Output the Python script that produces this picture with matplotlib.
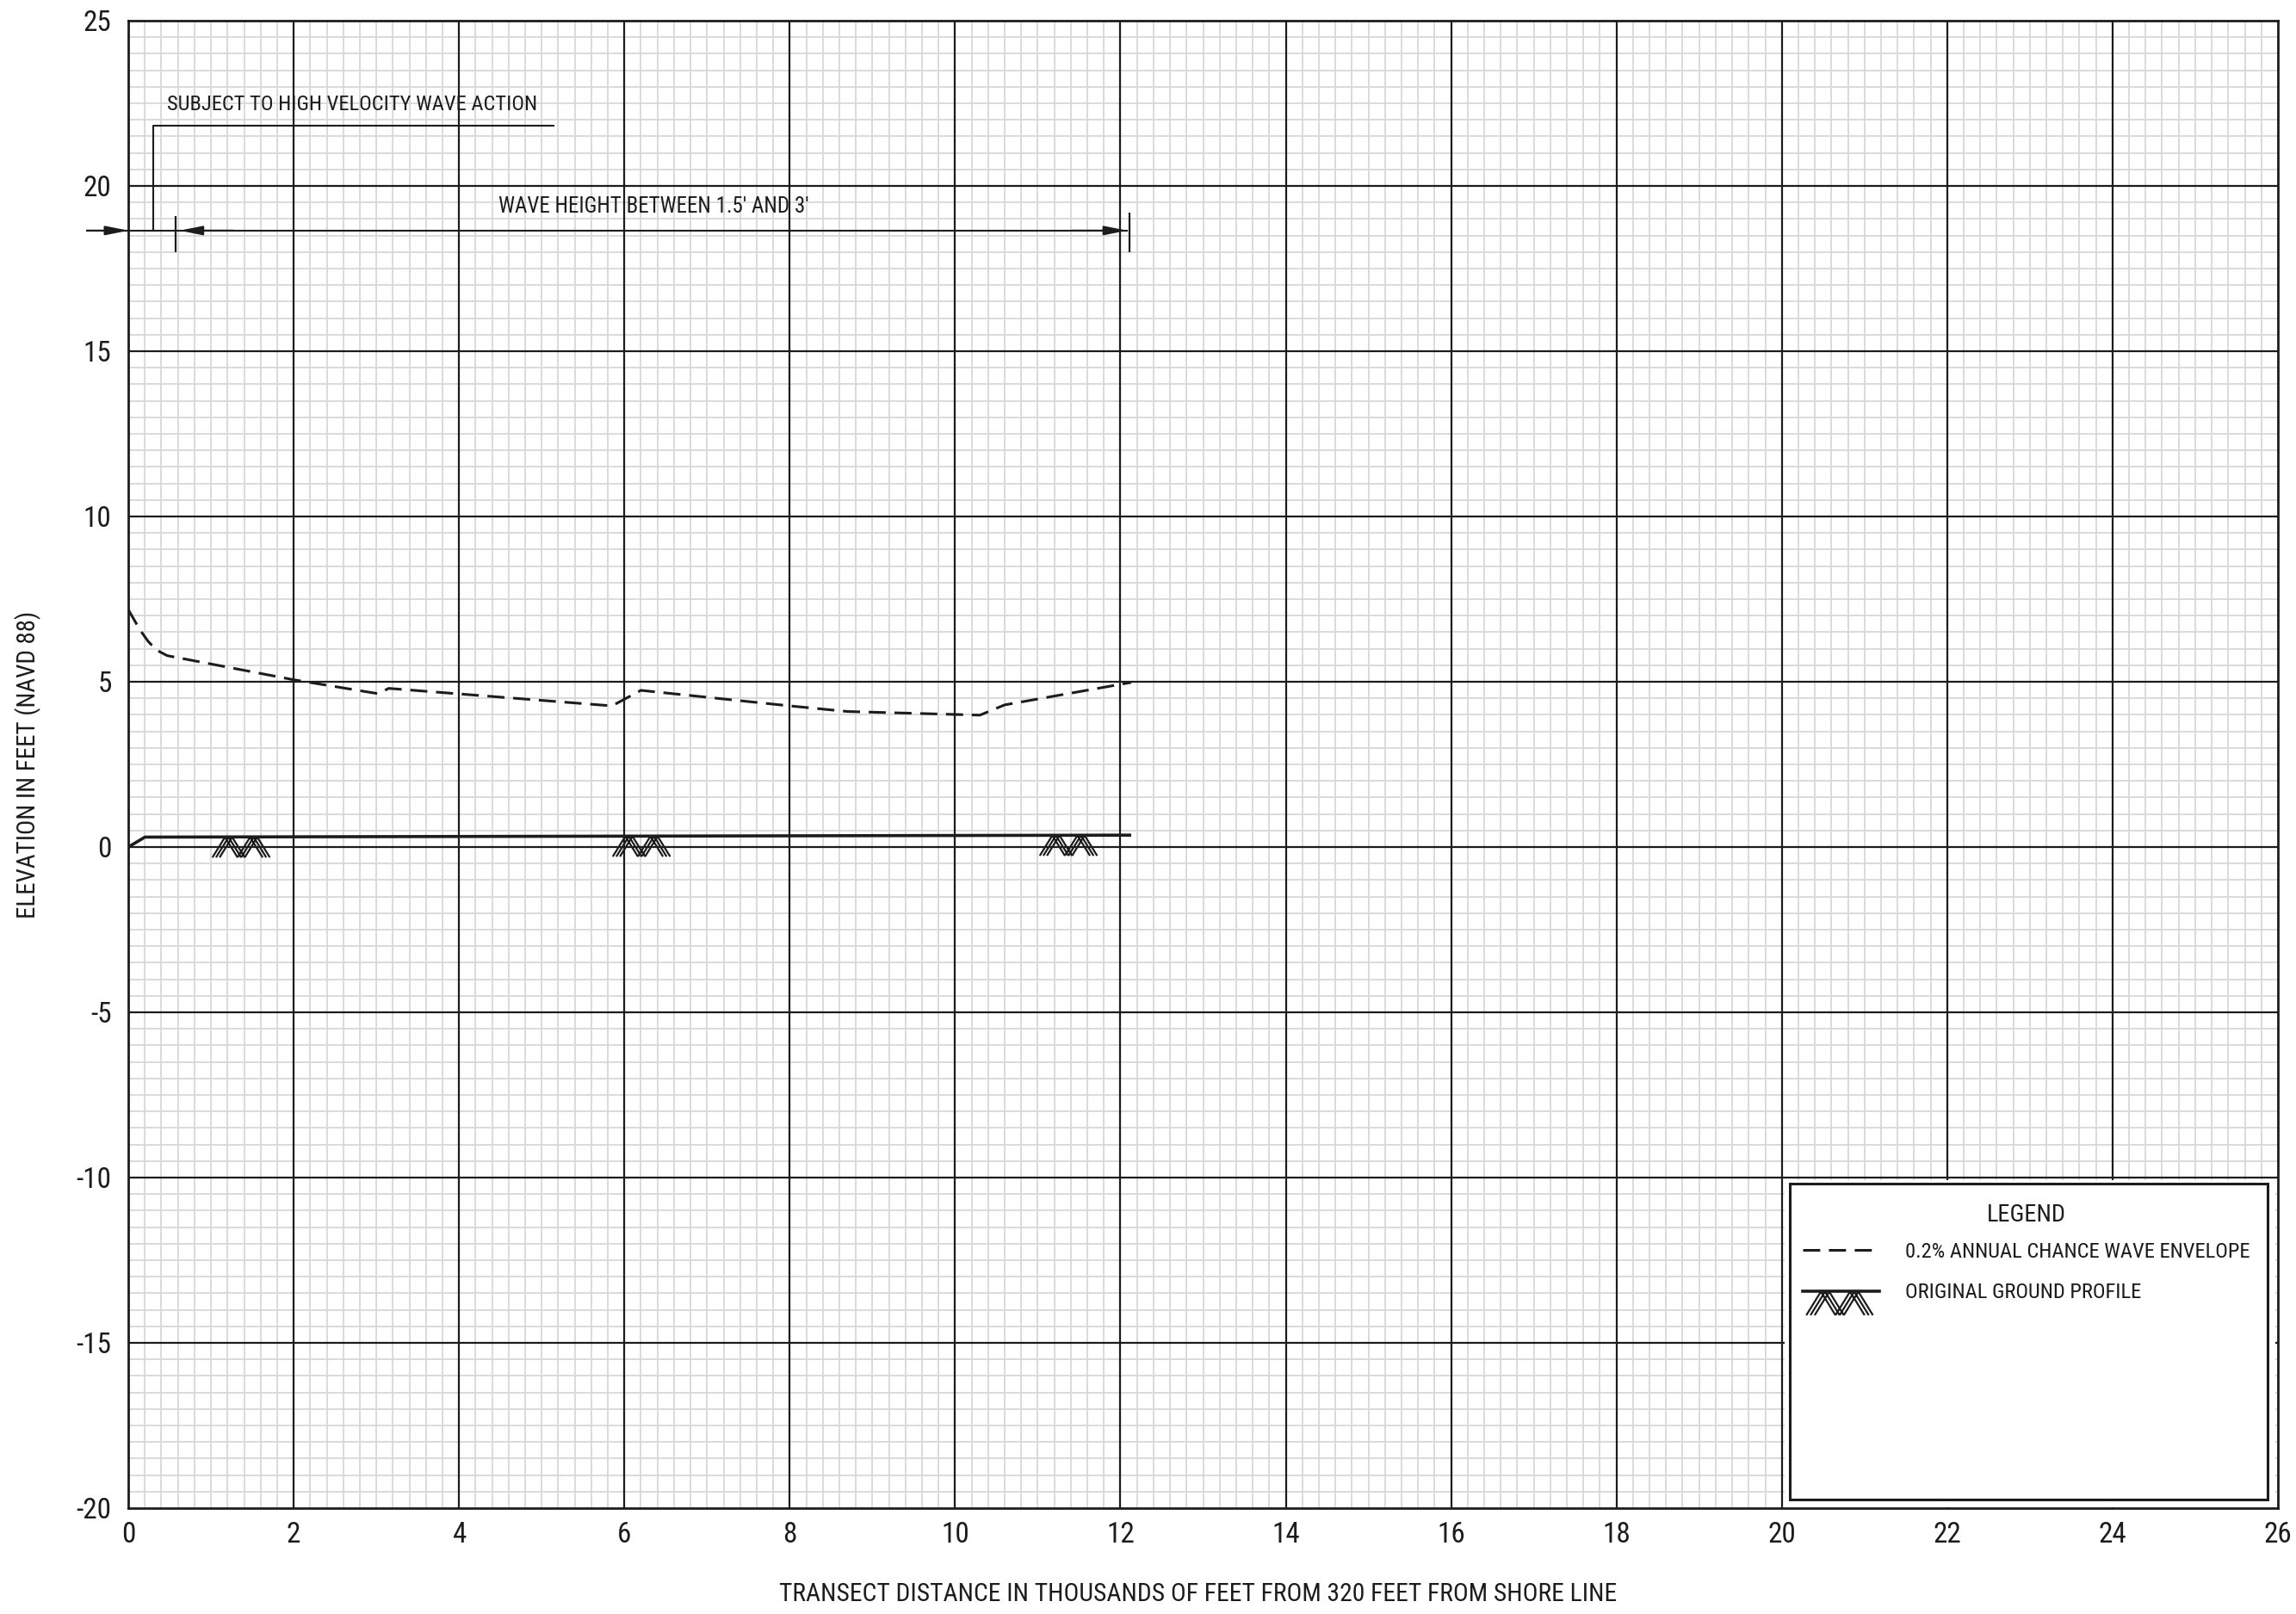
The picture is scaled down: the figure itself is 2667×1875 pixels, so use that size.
import numpy as np
import matplotlib
matplotlib.use('Agg')
import matplotlib.pyplot as plt
from matplotlib import font_manager as fm
from matplotlib.font_manager import FontProperties
from matplotlib.path import Path
from matplotlib.lines import Line2D
from matplotlib.patches import Rectangle
from matplotlib.ticker import MultipleLocator

# ---------------- data ----------------
envelope_x = [0.0, 0.14, 0.24, 0.34, 0.47, 2.0, 3.02, 3.15, 5.85, 6.2, 8.0, 8.7, 10.3, 10.6, 12.13]
envelope_y = [7.18, 6.57, 6.22, 5.96, 5.79, 5.06, 4.64, 4.80, 4.27, 4.74, 4.27, 4.10, 3.99, 4.30, 4.98]

ground_x = [0.0, 0.2, 12.13]
ground_y = [0.0, 0.30, 0.36]
hatch_x = [1.37, 6.22, 11.38]

x_ticks = list(range(0, 27, 2))
y_ticks = list(range(-20, 26, 5))

x_label = 'TRANSECT DISTANCE IN THOUSANDS OF FEET FROM 320 FEET FROM SHORE LINE'
y_label = 'ELEVATION IN FEET (NAVD 88)'
vzone_label = 'SUBJECT TO HIGH VELOCITY WAVE ACTION'
wave_label = "WAVE HEIGHT BETWEEN 1.5' AND 3'"
legend_title = 'LEGEND'
legend_labels = ['0.2% ANNUAL CHANCE WAVE ENVELOPE', 'ORIGINAL GROUND PROFILE']

# annotation geometry (data units)
zone_y = 18.65
bracket_x = 0.30
bracket_top = 21.82
bracket_right = 5.14
zone_start = 0.57
zone_end = 12.11

INK = '#1c1c1c'

# ------------- pick a condensed font if one is installed -------------
def pick_font():
    entries = fm.fontManager.ttflist
    names = {e.name for e in entries}
    for cand in ['Roboto Condensed', 'Liberation Sans Narrow', 'Open Sans Condensed',
                 'Noto Sans Condensed', 'DejaVu Sans Condensed', 'Noto Sans SemiCondensed',
                 'Open Sans SemiCondensed']:
        if cand in names:
            return cand, 'normal'
    for e in entries:
        if ('Condensed' in e.name or 'Narrow' in e.name) and e.style == 'normal':
            return e.name, 'normal'
    for e in entries:
        if str(e.stretch) in ('condensed', 'semi-condensed', 'extra-condensed'):
            return e.name, str(e.stretch)
    for cand in ['Roboto', 'Liberation Sans', 'DejaVu Sans']:
        if cand in names:
            return cand, 'normal'
    return 'DejaVu Sans', 'normal'

FONT, STRETCH = pick_font()
WEIGHT = 'normal'
plt.rcParams['font.family'] = [FONT, 'DejaVu Sans']
plt.rcParams['font.stretch'] = STRETCH
plt.rcParams['font.weight'] = WEIGHT
plt.rcParams['axes.unicode_minus'] = False

# ---------------- figure ----------------
fig = plt.figure(figsize=(26.67, 18.75), dpi=100)
renderer = fig.canvas.get_renderer()

def fit_size(text, target_px, base=20.0):
    prop = FontProperties(family=[FONT, 'DejaVu Sans'], stretch=STRETCH, weight=WEIGHT, size=base)
    w, h, d = renderer.get_text_width_height_descent(text, prop, ismath=False)
    return base * target_px / w

sz_xlabel = fit_size(x_label, 975)
sz_ylabel = fit_size(y_label, 357)
sz_vzone = fit_size(vzone_label, 430)
sz_wave = fit_size(wave_label, 361)
sz_leg = fit_size(legend_labels[0], 400)
sz_title = fit_size(legend_title, 92)
sz_tick = min(sz_xlabel * 1.12, 25)

# ------------- hatch marker (ground symbol) -------------
def make_hatch_path():
    h = 0.68
    legs = [(-0.88, -h, -0.46, 0.0), (-0.46, 0.0, -0.04, -h),
            (-0.04, -h, 0.38, 0.0), (0.38, 0.0, 0.80, -h)]
    verts, codes = [], []
    for (x0, y0, x1, y1) in legs:
        for dx in (-0.12, 0.0, 0.12):
            verts += [(x0 + dx, y0), (x1 + dx, y1)]
            codes += [Path.MOVETO, Path.LINETO]
    return Path(verts, codes)

hatch_marker = make_hatch_path()

ax = fig.add_axes([0.0559, 0.0656, 0.9921 - 0.0559, 0.9872 - 0.0656])
ax.set_xlim(0, 26)
ax.set_ylim(-20, 25)
ax.set_xticks(x_ticks)
ax.set_yticks(y_ticks)
ax.xaxis.set_minor_locator(MultipleLocator(0.2))
ax.yaxis.set_minor_locator(MultipleLocator(0.5))
ax.set_axisbelow(True)
ax.grid(which='minor', color='#d8d8d8', lw=1.3)
# major grid drawn above the minor grid
ax.vlines(x_ticks[1:-1], -20, 25, color=INK, lw=1.6, zorder=1)
ax.hlines(y_ticks[1:-1], 0, 26, color=INK, lw=1.6, zorder=1)
ax.tick_params(which='both', length=0)
ax.tick_params(axis='x', labelsize=sz_tick, pad=11, labelcolor=INK)
ax.tick_params(axis='y', labelsize=sz_tick, pad=14, labelcolor=INK)
for s in ax.spines.values():
    s.set_color(INK)
    s.set_linewidth(2.0)
    s.set_zorder(5)

# wave envelope
ax.plot(envelope_x, envelope_y, color=INK, lw=2.2, dashes=(6.5, 3.3), zorder=4)

# ground profile
ax.plot(ground_x, ground_y, color=INK, lw=2.6, zorder=4, solid_capstyle='butt')
hatch_y = np.interp(hatch_x, ground_x, ground_y)
ax.plot(hatch_x, hatch_y, linestyle='none', marker=hatch_marker, markersize=50,
        markerfacecolor='none', markeredgecolor=INK, markeredgewidth=1.6, zorder=4)

# ---------- annotations ----------
arrow_kw = dict(arrowstyle='-|>,head_length=0.8,head_width=0.16', mutation_scale=20,
                color=INK, lw=1.5, shrinkA=0, shrinkB=0)
ax.plot([0, zone_end - 0.03], [zone_y, zone_y], color=INK, lw=1.5, zorder=4)
ax.plot([-0.5, 0], [zone_y, zone_y], color=INK, lw=1.5, zorder=4, clip_on=False)
ax.annotate('', xy=(0, zone_y), xytext=(-0.5, zone_y), arrowprops=arrow_kw,
            annotation_clip=False, zorder=5)
ax.annotate('', xy=(zone_start + 0.05, zone_y), xytext=(zone_start + 0.7, zone_y),
            arrowprops=arrow_kw, annotation_clip=False, zorder=5)
ax.annotate('', xy=(zone_end - 0.03, zone_y), xytext=(zone_end - 0.7, zone_y),
            arrowprops=arrow_kw, annotation_clip=False, zorder=5)
ax.vlines([zone_start], 18.0, 19.1, color=INK, lw=1.6, zorder=5)
ax.vlines([zone_end], 18.0, 19.2, color=INK, lw=1.6, zorder=5)
ax.plot([bracket_x, bracket_x, bracket_right], [zone_y, bracket_top, bracket_top],
        color=INK, lw=1.5, zorder=4)

ax.text(0.47, 22.47, vzone_label, ha='left', va='center', fontsize=sz_vzone, color=INK, zorder=6)
ax.text(6.35, 19.38, wave_label, ha='center', va='center', fontsize=sz_wave, color=INK, zorder=6)

# axis labels
ax.set_xlabel(x_label, fontsize=sz_xlabel, color=INK)
ax.xaxis.set_label_coords(0.4975, -0.050)
ax.set_ylabel(y_label, fontsize=sz_ylabel, color=INK)
ax.yaxis.set_label_coords(-0.0404, 0.5)

# ---------- legend box ----------
ax.add_patch(Rectangle((20.03, -19.97), 5.94, 9.9, facecolor='white', edgecolor='none', zorder=2.2))
ax.add_patch(Rectangle((20.1, -19.75), 5.78, 9.58, fill=False, edgecolor=INK, lw=2.2, zorder=3))

env_handle = Line2D([], [], color=INK, lw=2.2, dashes=(6.5, 3.3))
ground_handle = Line2D([], [], color=INK, lw=2.6, marker=hatch_marker, markersize=58,
                       markerfacecolor='none', markeredgecolor=INK, markeredgewidth=1.6)
leg = ax.legend([env_handle, ground_handle], legend_labels, title=legend_title,
                loc='upper left', bbox_to_anchor=(20.25, -10.78), bbox_transform=ax.transData,
                frameon=False, fontsize=sz_leg, title_fontsize=sz_title,
                handlelength=64.0 / sz_leg, handletextpad=21.6 / sz_leg,
                labelspacing=17.5 / sz_leg, borderpad=0, borderaxespad=0)
leg._legend_box.sep = 13
leg.set_zorder(6)
for t in leg.get_texts():
    t.set_color(INK)
leg.get_title().set_color(INK)

fig.savefig('out.png', dpi=100)
